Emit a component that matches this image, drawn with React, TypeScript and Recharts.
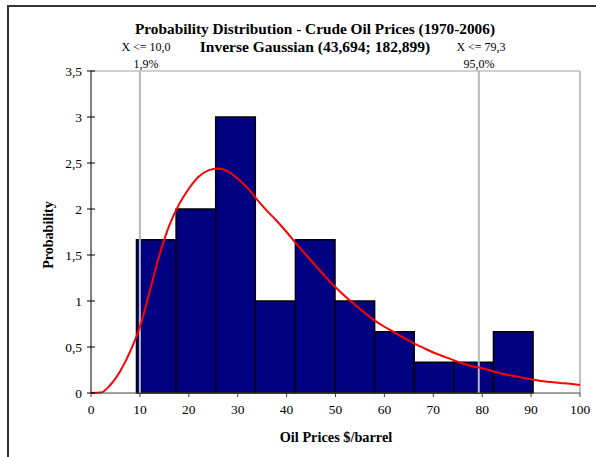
import React from 'react';
import { ComposedChart, Line, XAxis, YAxis, ReferenceArea, ReferenceLine } from 'recharts';

// histogram bins (oil price $/barrel) and heights
const binStart = [9.3, 17.4, 25.5, 33.6, 41.8, 49.9, 58.0, 66.1, 74.2, 82.3];
const binEnd = [17.4, 25.5, 33.6, 41.8, 49.9, 58.0, 66.1, 74.2, 82.3, 90.4];
const binHeight = [1.667, 2, 3, 1, 1.667, 1, 0.667, 0.333, 0.333, 0.667];

// fitted inverse gaussian curve
const curveX = [0, 2, 4, 6, 8, 10, 12, 14, 16, 18, 20, 22, 24, 26, 28, 30, 32, 34, 36, 38, 40, 42, 44, 46, 48, 50,
  52, 54, 56, 58, 60, 62, 64, 66, 68, 70, 72, 74, 76, 78, 80, 82, 84, 86, 88, 90, 92, 94, 96, 98, 100];
const curveY = [0, 0.005, 0.09, 0.24, 0.45, 0.72, 1.1, 1.5, 1.82, 2.05, 2.22, 2.35, 2.42, 2.44, 2.41, 2.33, 2.23, 2.1,
  1.98, 1.87, 1.75, 1.62, 1.5, 1.38, 1.26, 1.15, 1.05, 0.96, 0.87, 0.79, 0.72, 0.66, 0.6, 0.54, 0.49, 0.44, 0.4, 0.36,
  0.32, 0.29, 0.27, 0.24, 0.21, 0.19, 0.17, 0.15, 0.13, 0.12, 0.11, 0.1, 0.087];

const xTicks = [0, 10, 20, 30, 40, 50, 60, 70, 80, 90, 100];
const yTicks = [0, 0.5, 1, 1.5, 2, 2.5, 3, 3.5];

// percentile markers
const lowerX = 10;
const upperX = 79.3;
const lowerText = ['X <= 10,0', '1,9%'];
const upperText = ['X <= 79,3', '95,0%'];

const title = 'Probability Distribution - Crude Oil Prices (1970-2006)';
const subtitle = 'Inverse Gaussian (43,694; 182,899)';

const FONT = '"Liberation Serif", "Times New Roman", serif';

const curveData = curveX.map((x, i) => ({ x, y: curveY[i] }));

const YTick = (props: any) => {
  const { x, y, payload } = props;
  return (
    <g>
      <line x1={x + 4} x2={x + 12} y1={y} y2={y} stroke="#000" />
      <text x={x - 1} y={y} dy="0.35em" textAnchor="end" fontSize={13.5} fontFamily={FONT} fill="#000">
        {String(payload.value).replace('.', ',')}
      </text>
    </g>
  );
};

const App: React.FC = () => {
  return (
    <div style={{ position: 'fixed', left: 0, top: 0, width: 596, height: 457, overflow: 'hidden', background: '#fff' }}>
      <div style={{ position: 'absolute', left: 7, top: 5, width: 640, height: 500, border: '2px solid #333' }} />
      <div style={{ position: 'absolute', left: 0, top: 0 }}>
        <ComposedChart width={596} height={457} data={curveData} margin={{ top: 71, right: 16, bottom: 34, left: 31 }}>
          <XAxis
            dataKey="x"
            type="number"
            domain={[0, 100]}
            ticks={xTicks}
            interval={0}
            tickSize={4}
            tickMargin={7}
            stroke="#404040"
            tick={{ fontSize: 13.5, fontFamily: FONT, fill: '#000' }}
          />
          <YAxis
            type="number"
            domain={[0, 3.5]}
            ticks={yTicks}
            interval={0}
            width={60}
            tickSize={4}
            tickMargin={4}
            tickLine={false}
            stroke="#000"
            tick={<YTick />}
          />
          <ReferenceLine y={3.5} stroke="#c0c0c0" strokeWidth={1.5} />
          <ReferenceLine x={100} stroke="#c0c0c0" strokeWidth={2} />
          {binStart.map((s, i) => (
            <ReferenceArea
              key={i}
              x1={s}
              x2={binEnd[i]}
              y1={0}
              y2={binHeight[i]}
              fill="#000080"
              fillOpacity={1}
              stroke="#000"
              strokeWidth={1.5}
            />
          ))}
          <ReferenceLine x={lowerX} stroke="#b8b8b8" strokeWidth={2} />
          <ReferenceLine x={upperX} stroke="#b8b8b8" strokeWidth={2} />
          <Line
            dataKey="y"
            type="monotone"
            stroke="#ff0000"
            strokeWidth={2}
            dot={false}
            activeDot={false}
            isAnimationActive={false}
          />
        </ComposedChart>
      </div>
      <svg width={596} height={457} style={{ position: 'absolute', left: 0, top: 0, pointerEvents: 'none' }}>
        <g fontFamily={FONT} fill="#000">
          <text x={315} y={33.5} textAnchor="middle" fontSize={15.3} fontWeight="bold">{title}</text>
          <text x={315} y={51.5} textAnchor="middle" fontSize={15.5} fontWeight="bold">{subtitle}</text>
          <text x={146} y={50.5} textAnchor="middle" fontSize={12}>{lowerText[0]}</text>
          <text x={146} y={67.5} textAnchor="middle" fontSize={12}>{lowerText[1]}</text>
          <text x={481} y={50.5} textAnchor="middle" fontSize={12}>{upperText[0]}</text>
          <text x={479} y={67.5} textAnchor="middle" fontSize={12}>{upperText[1]}</text>
          <text transform="translate(53,235) rotate(-90)" textAnchor="middle" fontSize={14} fontWeight="bold">Probability</text>
          <text x={336} y={441.5} textAnchor="middle" fontSize={14.3} fontWeight="bold">Oil Prices $/barrel</text>
        </g>
      </svg>
    </div>
  );
};

export default App;
